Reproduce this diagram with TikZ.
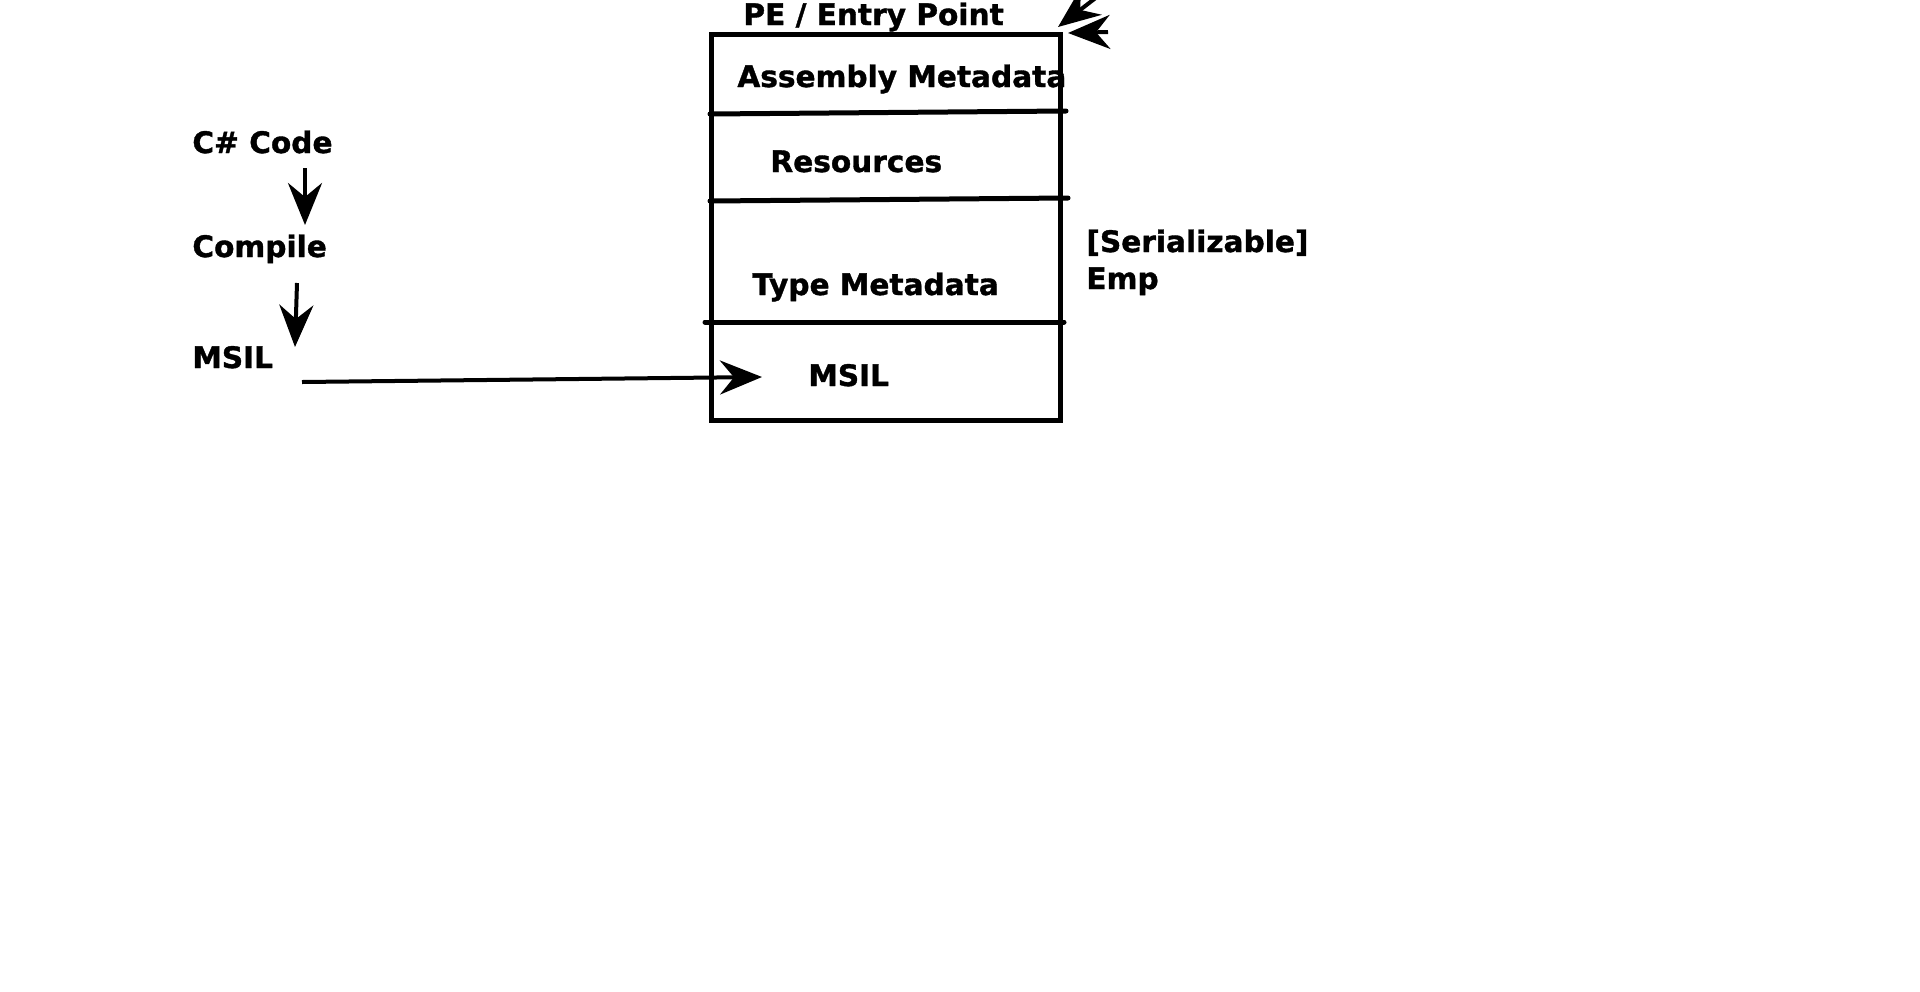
\documentclass[tikz,border=0pt]{standalone}
\usepackage{fontspec}
\setmainfont{DejaVu Sans}[BoldFeatures={FakeBold=1.2}]
\usetikzlibrary{arrows.meta}
\begin{document}
\begin{tikzpicture}[x=0.5pt,y=-0.5pt,
  lbl/.style={anchor=base west,inner sep=0pt,font=\fontsize{14.8}{18}\selectfont\bfseries},
  arr/.style={line width=2pt,-{Stealth[length=21pt,width=17pt,inset=7pt]}},
  wall/.style={line width=2.5pt,line cap=round}]
\useasboundingbox (0,0) rectangle (1920,991);
% build chain
\node[lbl] (csharp) at (192,153) {C\# Code};
\node[lbl] (compile) at (192,257) {Compile};
\node[lbl] (msil) at (192,368) {MSIL};
\coordinate (c1) at (305,168);
\coordinate (c2) at (305,225);
\coordinate (c3) at (297,283);
\coordinate (c4) at (295,347);
\draw[arr] (c1) -- (c2);
\draw[arr] (c3) -- (c4);
% assembly box
\draw[wall] (711,34) rectangle (1060,420);
\draw[wall] (710,114) -- (1066,111);
\draw[wall] (710,201) -- (1068,198);
\draw[wall] (705,322) -- (1064,322);
\node[lbl] (pe) at (743,25) {PE / Entry Point};
\node[lbl] (asmmeta) at (737,87) {Assembly Metadata};
\node[lbl] (resources) at (770,172) {Resources};
\node[lbl] (typemeta) at (752,295) {Type Metadata};
\node[lbl] (msilbox) at (808,386) {MSIL};
\node[lbl] (serial) at (1086,252) {[Serializable]};
\node[lbl] (emp) at (1086,289) {Emp};
% into the box
\coordinate (m1) at (302,382);
\coordinate (m2) at (762,377);
\draw[arr] (m1) -- (m2);
% entry arrows
\coordinate (e1) at (1115,-17);
\coordinate (e2) at (1058,27);
\coordinate (e3) at (1108,32);
\coordinate (e4) at (1068,33);
\draw[arr] (e1) -- (e2);
\draw[arr] (e3) -- (e4);
\end{tikzpicture}
\end{document}
